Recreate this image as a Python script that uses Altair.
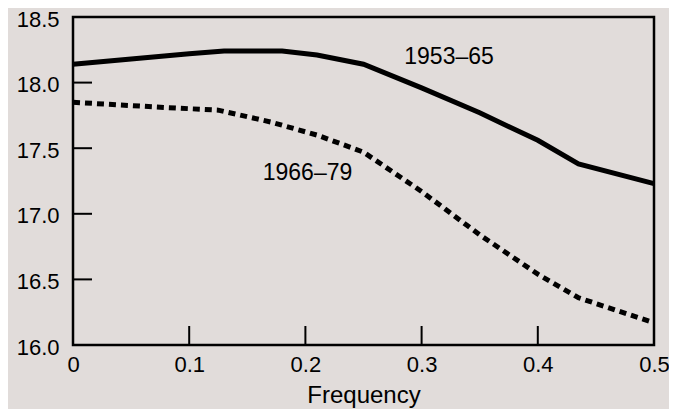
import altair as alt
import pandas as pd

# Data
freq_a = [0, 0.05, 0.1, 0.13, 0.18, 0.21, 0.25, 0.3, 0.35, 0.4, 0.435, 0.5]
val_a = [18.14, 18.18, 18.22, 18.24, 18.24, 18.21, 18.14, 17.96, 17.77, 17.56, 17.38, 17.23]
freq_b = [0, 0.08, 0.125, 0.17, 0.21, 0.25, 0.3, 0.35, 0.4, 0.435, 0.5]
val_b = [17.85, 17.81, 17.79, 17.70, 17.60, 17.47, 17.17, 16.84, 16.54, 16.36, 16.17]

label_text = ["1953–65", "1966–79"]
label_x = [0.3236, 0.2018]
label_y = [18.14, 17.26]

x_ticks = [0, 0.1, 0.2, 0.3, 0.4, 0.5]
y_ticks = [16.0, 16.5, 17.0, 17.5, 18.0, 18.5]
x_inner_ticks = [0.1, 0.2, 0.3, 0.4]
y_inner_ticks = [16.5, 17.0, 17.5, 18.0]

BG = "#e1dcda"
FONT = "Liberation Sans"

df_a = pd.DataFrame({"f": freq_a, "v": val_a})
df_b = pd.DataFrame({"f": freq_b, "v": val_b})
df_lab = pd.DataFrame({"t": label_text, "f": label_x, "v": label_y})
df_xt = pd.DataFrame({"f": x_inner_ticks})
df_yt = pd.DataFrame({"v": y_inner_ticks})

xscale = alt.Scale(domain=[0, 0.5], nice=False, zero=False)
yscale = alt.Scale(domain=[16.0, 18.5], nice=False, zero=False)

xax = alt.Axis(values=x_ticks, format="~g", title="Frequency", grid=False, domain=False,
               ticks=False, tickSize=0, labelPadding=9, labelFontSize=22, labelFont=FONT,
               labelColor="black", titleFont=FONT, titleFontSize=24, titleFontWeight="normal",
               titleColor="black", titlePadding=8,
               labelFlush=False)
yax = alt.Axis(values=y_ticks, format=".1f", title=None, grid=False, domain=False,
               ticks=False, tickSize=0, labelPadding=14, labelFontSize=22, labelFont=FONT,
               labelColor="black", labelFlush=False, labelOffset=2)

line_a = alt.Chart(df_a).mark_line(color="black", strokeWidth=5).encode(
    x=alt.X("f:Q", scale=xscale, axis=xax),
    y=alt.Y("v:Q", scale=yscale, axis=yax),
)
line_b = alt.Chart(df_b).mark_line(color="black", strokeWidth=5, strokeDash=[7, 5]).encode(
    x=alt.X("f:Q", scale=xscale),
    y=alt.Y("v:Q", scale=yscale),
)
labels = alt.Chart(df_lab).mark_text(font=FONT, fontSize=23, color="black",
                                     align="center", baseline="alphabetic").encode(
    x=alt.X("f:Q", scale=xscale),
    y=alt.Y("v:Q", scale=yscale),
    text="t:N",
)
xt = alt.Chart(df_xt).mark_rule(color="black", strokeWidth=2).encode(
    x=alt.X("f:Q", scale=xscale),
    y=alt.value(328),
    y2=alt.value(309),
)
yt = alt.Chart(df_yt).mark_rule(color="black", strokeWidth=2).encode(
    y=alt.Y("v:Q", scale=yscale),
    x=alt.value(0),
    x2=alt.value(19),
)

chart = alt.layer(line_a, line_b, labels, xt, yt).properties(
    width=581, height=328,
    padding={"left": 65, "top": 9, "right": 15, "bottom": 64},
    autosize=alt.AutoSizeParams(type="none"),
    background=BG,
).configure_view(stroke="black", strokeWidth=2.5, fill=BG)

chart.save("out.html", embed_options={"renderer": "svg", "actions": False})
